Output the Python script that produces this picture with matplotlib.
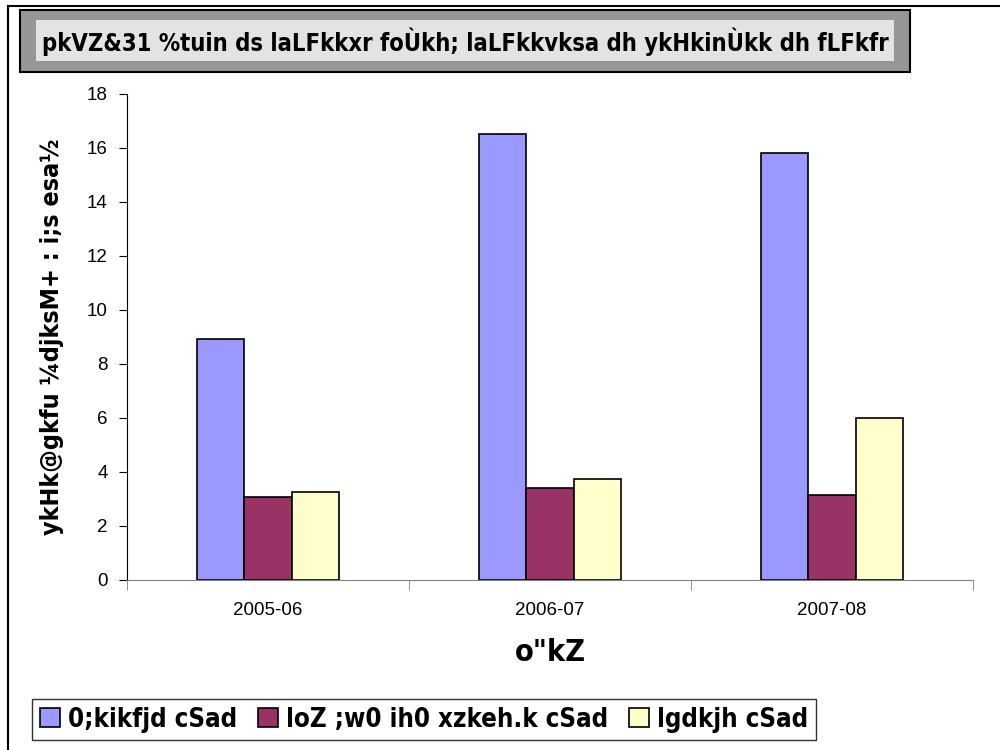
import matplotlib.pyplot as plt
import numpy as np
from matplotlib.patches import Rectangle

# data
years = ['2005-06', '2006-07', '2007-08']
commercial = [8.9, 16.5, 15.8]
gramin = [3.05, 3.4, 3.15]
cooperative = [3.25, 3.75, 6.0]

series_names = ['0;kikfjd cSad', 'loZ ;w0 ih0 xzkeh.k cSad', 'lgdkjh cSad']
colors = ['#9999FF', '#993366', '#FFFFCC']

title_text = 'pkVZ&31 %tuin ds laLFkkxr foÙkh; laLFkkvksa dh ykHkinÙkk dh fLFkfr'
ylabel_text = 'ykHk@gkfu ¼djksM+ : i;s esa½'
xlabel_text = 'o"kZ'

hfont = dict(family='DejaVu Sans', fontstretch='condensed', fontweight='bold')

fig = plt.figure(figsize=(10, 7.5), dpi=100)
ax = fig.add_axes([0.127, 0.227, 0.846, 0.648])

x = np.arange(len(years))
w = 0.167
for i, (vals, c, name) in enumerate(zip([commercial, gramin, cooperative], colors, series_names)):
    ax.bar(x + (i - 1) * w, vals, w, color=c, edgecolor='black', linewidth=1.2, label=name)

ax.set_xlim(-0.5, 2.5)
ax.set_ylim(0, 18)
ax.set_yticks(range(0, 19, 2))
ax.set_xticks(x)
ax.set_xticklabels(years, fontsize=13.5, family='Liberation Sans')
for t in ax.get_yticklabels():
    t.set_fontsize(13.5)
    t.set_family('Liberation Sans')
ax.set_xticks([-0.5, 0.5, 1.5, 2.5], minor=True)
ax.tick_params(axis='x', which='major', length=0, pad=16)
ax.tick_params(axis='x', which='minor', length=7, color='#808080', direction='out')
ax.tick_params(axis='y', length=6, direction='out', pad=8)
ax.spines['top'].set_visible(False)
ax.spines['right'].set_visible(False)
ax.spines['bottom'].set_color('#808080')

ax.set_ylabel(ylabel_text, fontsize=18, labelpad=16, **hfont)
ax.set_xlabel(xlabel_text, fontsize=22, labelpad=14, **hfont)

# title box with grey frame
fig.patches.append(Rectangle((0.020, 0.904), 0.890, 0.083, transform=fig.transFigure,
                             facecolor='#969696', edgecolor='black', linewidth=1.5))
fig.patches.append(Rectangle((0.036, 0.919), 0.858, 0.054, transform=fig.transFigure,
                             facecolor='#E3E3E3', edgecolor='none'))
fig.text(0.042, 0.945, title_text, fontsize=17, va='center', ha='left', **hfont)

# outer chart border
fig.patches.append(Rectangle((0.008, -0.02), 1.1, 1.012, transform=fig.transFigure,
                             facecolor='none', edgecolor='black', linewidth=1.5))

leg = ax.legend(loc='lower left', bbox_to_anchor=(0.032, 0.013), bbox_transform=fig.transFigure,
                ncol=3, frameon=True, fancybox=False, edgecolor='black',
                prop=dict(family='DejaVu Sans', stretch='condensed', weight='bold', size=18.5),
                handlelength=0.8, handleheight=0.8, handletextpad=0.3, columnspacing=0.8,
                borderpad=0.3, borderaxespad=0)
leg.get_frame().set_linewidth(1.0)

fig.savefig('out.png', dpi=100)
